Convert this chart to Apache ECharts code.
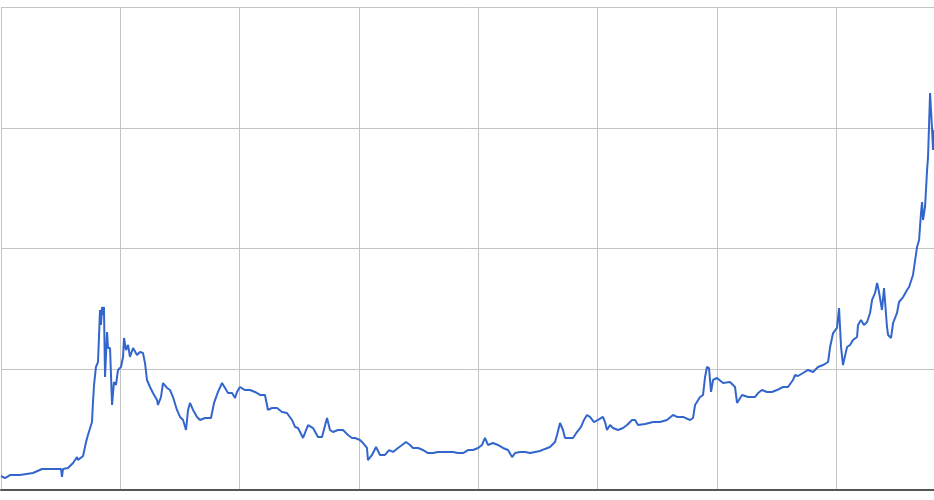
<!DOCTYPE html>
<html>
<head>
<meta charset="utf-8">
<style>html,body{margin:0;padding:0;background:#fff;}#chart{width:934px;height:500px;}</style>
<script src="https://cdn.jsdelivr.net/npm/echarts@6/dist/echarts.min.js"></script>
</head>
<body>
<div id="chart"></div>
<script>
// x position in gridline periods (one vertical gridline per unit), y value
const xValues = [0,0.034,0.075,0.159,0.268,0.344,0.411,0.503,0.511,0.520,0.562,0.604,0.637,0.645,0.688,0.713,0.729,0.763,0.771,0.780,0.796,0.813,0.822,0.830,0.838,0.847,0.855,0.863,0.872,0.889,0.897,0.914,0.931,0.947,0.964,0.981,1.006,1.023,1.031,1.048,1.065,1.081,1.107,1.140,1.165,1.190,1.207,1.224,1.249,1.274,1.308,1.316,1.341,1.358,1.392,1.417,1.442,1.475,1.501,1.526,1.551,1.568,1.584,1.610,1.643,1.668,1.710,1.760,1.786,1.819,1.853,1.878,1.903,1.937,1.962,1.978,2.003,2.045,2.087,2.129,2.171,2.213,2.238,2.272,2.314,2.356,2.397,2.439,2.465,2.490,2.506,2.532,2.574,2.616,2.657,2.691,2.733,2.758,2.783,2.825,2.867,2.909,2.942,2.968,3.009,3.035,3.068,3.076,3.110,3.144,3.177,3.219,3.253,3.286,3.328,3.362,3.395,3.429,3.454,3.496,3.538,3.580,3.621,3.663,3.705,3.747,3.789,3.831,3.873,3.915,3.957,3.999,4.032,4.057,4.082,4.124,4.166,4.208,4.250,4.284,4.309,4.351,4.393,4.435,4.477,4.518,4.560,4.602,4.644,4.661,4.686,4.711,4.728,4.753,4.795,4.828,4.862,4.887,4.912,4.937,4.971,5.005,5.046,5.063,5.080,5.105,5.130,5.172,5.214,5.248,5.290,5.315,5.340,5.399,5.466,5.524,5.583,5.633,5.667,5.717,5.776,5.801,5.818,5.860,5.885,5.902,5.918,5.935,5.952,5.969,6.002,6.053,6.111,6.153,6.170,6.212,6.262,6.321,6.346,6.379,6.421,6.463,6.505,6.555,6.597,6.639,6.656,6.681,6.723,6.765,6.807,6.849,6.891,6.933,6.950,6.975,7.008,7.025,7.042,7.058,7.092,7.117,7.142,7.176,7.184,7.209,7.234,7.260,7.285,7.302,7.327,7.344,7.360,7.385,7.402,7.427,7.436,7.461,7.478,7.511,7.528,7.562,7.595,7.612,7.645,7.679,7.696,7.712,7.721,7.729,7.746,7.763,7.771,7.788,7.805,7.813,7.821];
const yValues = [11.6,9.9,12.4,12.4,14.1,17.4,17.4,17.4,10.8,17.4,18.2,22.4,27.3,24.8,28.2,39.8,45.6,56.3,72.9,87.0,101.9,106.0,128.4,149.1,136.7,151.6,144.9,151.6,93.6,130.9,117.6,117.6,70.4,89.4,87.0,99.4,101.9,110.2,125.9,115.9,120.1,110.2,117.6,111.8,114.3,113.5,105.2,91.1,85.3,80.3,74.5,70.4,77.0,88.6,84.5,82.8,77.0,66.3,60.5,58.0,49.7,66.3,72.1,66.3,60.5,58.0,59.6,59.6,72.1,81.2,88.6,84.5,80.3,80.3,76.2,81.2,85.3,82.8,82.8,81.2,78.7,78.7,66.3,67.9,67.9,64.6,63.8,58.0,52.2,51.3,49.7,43.1,53.8,51.3,43.9,43.9,59.6,49.7,48.0,49.7,49.7,45.6,43.1,43.1,41.4,38.9,34.8,24.8,29.0,35.6,29.0,29.0,33.1,31.5,34.8,37.3,39.8,37.3,34.8,34.8,33.1,30.6,30.6,31.5,31.5,31.5,31.5,30.6,30.6,33.1,33.1,34.8,37.3,43.1,37.3,38.9,37.3,34.8,33.1,27.3,30.6,31.5,31.5,30.6,31.5,32.3,34.0,35.6,39.8,45.6,55.5,49.7,43.1,43.1,43.1,48.0,52.2,58.0,62.1,60.5,56.3,58.0,60.5,56.3,49.7,53.8,51.3,49.7,51.3,53.8,58.0,58.0,53.8,54.7,56.3,56.3,58.0,62.1,60.5,60.5,58.0,59.6,70.4,77.0,78.7,93.6,101.9,101.0,81.2,91.1,92.8,88.6,89.4,85.3,72.1,78.7,77.0,77.0,80.3,82.8,81.2,81.2,82.8,85.3,85.3,91.1,95.2,94.4,96.9,99.4,97.7,101.9,103.5,106.0,118.4,130.0,134.2,150.7,118.4,103.5,118.4,120.1,124.2,126.7,136.7,140.8,136.7,139.1,146.6,157.4,163.2,171.4,164.0,149.1,167.3,135.0,128.4,125.9,138.3,146.6,155.7,159.8,165.6,168.1,178.1,201.3,207.1,229.4,238.5,223.6,234.4,265.0,275.8,328.8,298.1,281.6,298.1];
const yTicks = [0, 100, 200, 300, 400];

const seriesData = xValues.map((x, i) => [x, yValues[i]]);

const chart = echarts.init(document.getElementById('chart'), null, {renderer: 'canvas'});
chart.setOption({
  animation: false,
  backgroundColor: '#ffffff',
  grid: {left: 1, right: 0, top: 7, bottom: 10, containLabel: false},
  xAxis: {
    type: 'value', min: 0, max: 7.821, interval: 1,
    axisLabel: {show: false}, axisTick: {show: false},
    axisLine: {show: true, onZero: false, lineStyle: {color: '#555', width: 2}},
    splitLine: {show: true, lineStyle: {color: '#c4c4c4', width: 1}}
  },
  yAxis: {
    type: 'value', min: yTicks[0], max: yTicks[yTicks.length - 1], interval: 100,
    axisLabel: {show: false}, axisTick: {show: false}, axisLine: {show: false},
    splitLine: {show: true, lineStyle: {color: '#c4c4c4', width: 1}}
  },
  series: [{
    type: 'line', data: seriesData, showSymbol: false, symbol: 'none',
    lineStyle: {color: '#3366cc', width: 2}, z: 5
  }]
});
</script>
</body>
</html>
